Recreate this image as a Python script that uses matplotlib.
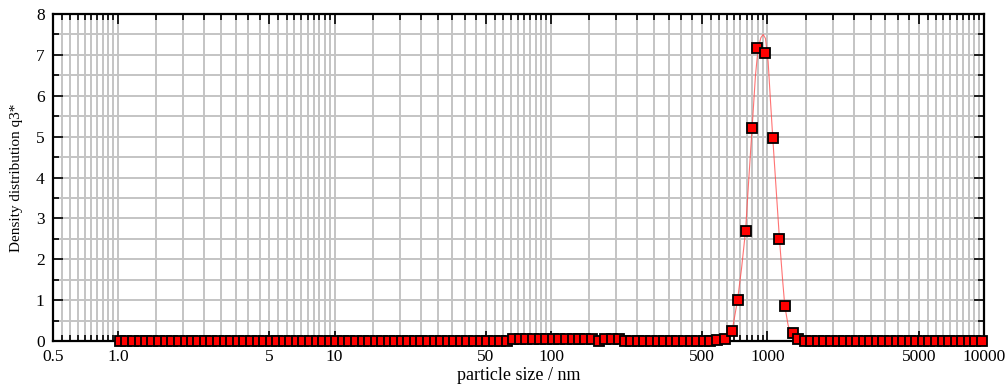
import numpy as np
import matplotlib.pyplot as plt
from matplotlib.ticker import LogLocator, MultipleLocator, NullFormatter

plt.rcParams['font.family'] = ['Liberation Serif', 'DejaVu Serif']

# particle size classes (nm) and density distribution q3*
size_low = [1.02, 1.09, 1.17, 1.26, 1.35, 1.44, 1.55, 1.66, 1.78, 1.91, 2.05,
            2.19, 2.35, 2.52, 2.70, 2.90, 3.11, 3.33, 3.57, 3.83, 4.11, 4.41,
            4.73, 5.07, 5.43, 5.83, 6.25, 6.70, 7.18, 7.70, 8.26, 8.85, 9.49,
            10.2, 10.9, 11.7, 12.6, 13.5, 14.4, 15.5, 16.6, 17.8, 19.1, 20.5,
            21.9, 23.5, 25.2, 27.0, 29.0, 31.1, 33.3, 35.7, 38.3, 41.1, 44.1,
            47.3, 50.7, 54.3, 58.3, 62.5, 67.0, 71.8, 77.0, 82.6, 88.5, 94.9,
            102, 109, 117, 126, 135, 144, 155, 166, 178, 191, 205,
            219, 235, 252, 270, 290, 311, 333, 357, 383, 411, 441,
            473, 507, 543, 583]
q3_low = [0, 0, 0, 0, 0, 0, 0, 0, 0, 0, 0,
          0, 0, 0, 0, 0, 0, 0, 0, 0, 0, 0,
          0, 0, 0, 0, 0, 0, 0, 0, 0, 0, 0,
          0, 0, 0, 0, 0, 0, 0, 0, 0, 0, 0,
          0, 0, 0, 0, 0, 0, 0, 0, 0, 0, 0,
          0, 0, 0, 0, 0, 0.04, 0.04, 0.04, 0.04, 0.04, 0.04,
          0.04, 0.04, 0.04, 0.04, 0.04, 0.04, 0.04, 0, 0.04, 0.04, 0.04,
          0, 0, 0, 0, 0, 0, 0, 0, 0, 0, 0,
          0, 0, 0, 0.02]

size_peak = [635, 682, 727, 792, 849, 899, 972, 1058, 1136, 1202, 1313, 1385]
q3_peak = [0.04, 0.24, 1.00, 2.70, 5.21, 7.16, 7.05, 4.96, 2.49, 0.86, 0.20, 0.04]

size_high = [1487, 1594, 1710, 1833, 1966, 2108, 2260, 2423, 2598, 2786,
             2987, 3203, 3434, 3683, 3949, 4234, 4541, 4868, 5220, 5598,
             6002, 6436, 6901, 7400, 7935, 8508, 9123, 9781]
q3_high = [0, 0, 0, 0, 0, 0, 0, 0, 0, 0,
           0, 0, 0, 0, 0, 0, 0, 0, 0, 0,
           0, 0, 0, 0, 0, 0, 0, 0]

# fitted curve through the peak
fit_size = [600, 640, 658, 694, 727, 759, 792, 820, 849, 880, 905, 932, 955,
            979, 1007, 1033, 1058, 1096, 1136, 1173, 1202, 1245, 1299, 1361, 1420]
fit_q3 = [0.0, 0.0, 0.07, 0.39, 1.00, 1.78, 2.70, 3.98, 5.21, 6.50, 7.16, 7.42,
          7.50, 7.40, 6.83, 5.85, 4.96, 3.73, 2.49, 1.53, 0.86, 0.39, 0.10, 0.02, 0.0]

xticks = [0.5, 1, 5, 10, 50, 100, 500, 1000, 5000, 10000]
xlabels = ['0.5', '1.0', '5', '10', '50', '100', '500', '1000', '5000', '10000']

sizes = size_low + size_peak + size_high
q3 = q3_low + q3_peak + q3_high

fig = plt.figure(figsize=(10.07, 3.9), dpi=100)
ax = fig.add_axes([0.0526, 0.1256, 0.9245, 0.8385])

ax.set_xscale('log')
ax.set_xlim(0.5, 10000)
ax.set_ylim(0, 8)

ax.xaxis.set_minor_locator(LogLocator(base=10, subs=np.arange(1, 10, 0.5), numticks=200))
ax.xaxis.set_minor_formatter(NullFormatter())
ax.set_xticks(xticks, xlabels)
ax.yaxis.set_major_locator(MultipleLocator(1))
ax.yaxis.set_minor_locator(MultipleLocator(0.5))

ax.grid(which='both', color='#c4c4c4', linewidth=1.4, zorder=0)
ax.set_axisbelow(True)

ax.tick_params(which='both', direction='in', top=True, right=True,
               color='black', width=1.2, labelsize=12.5, pad=6)
ax.tick_params(which='major', length=7)
ax.tick_params(which='minor', length=4)

for s in ax.spines.values():
    s.set_linewidth(1.6)
    s.set_zorder(4)

ax.plot(fit_size, fit_q3, color='#ff5050', lw=0.8, alpha=0.8, zorder=3)
ax.plot(sizes, q3, linestyle='none', marker='s', markersize=6.5,
        markerfacecolor='#ff0000', markeredgecolor='black',
        markeredgewidth=1.3, clip_on=False, zorder=5)

ax.set_xlabel('particle size / nm', fontsize=13, labelpad=1)
ax.set_ylabel('Density distribution q3*', fontsize=11, labelpad=9)

fig.savefig('out.png', dpi=100)
